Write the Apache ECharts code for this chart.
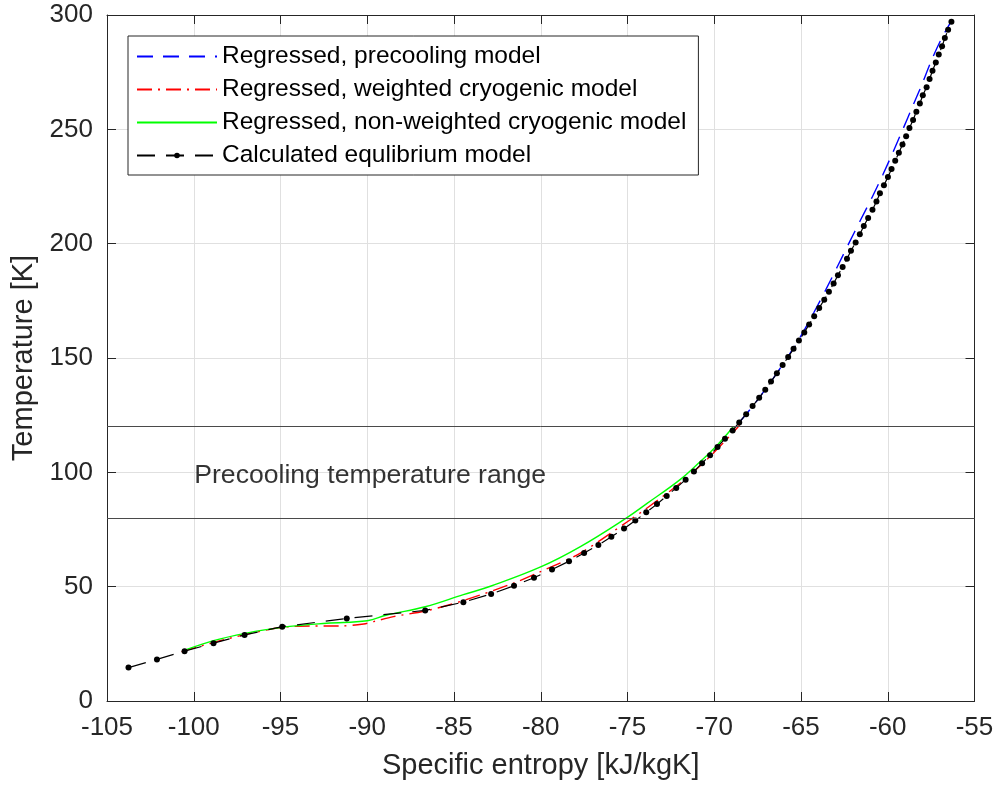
<!DOCTYPE html>
<html><head><meta charset="utf-8">
<script src="https://cdn.jsdelivr.net/npm/echarts@6/dist/echarts.min.js"></script>
<style>html,body{margin:0;padding:0;background:#fff}#c{width:997px;height:789px}</style>
</head><body><div id="c"></div>
<script>
// ---- data ----
const seriesNames = [
  'Regressed, precooling model',
  'Regressed, weighted cryogenic model',
  'Regressed, non-weighted cryogenic model',
  'Calculated equlibrium model'
];
const xTickMin = -105, xTickMax = -55, xTickStep = 5;
const yTickMin = 0, yTickMax = 300, yTickStep = 50;

// Calculated equilibrium model
const eqS = [-103.76,-102.12,-100.53,-98.86,-97.07,-94.90,-91.18,-86.66,-84.46,-82.86,
  -81.54,-80.39,-79.35,-78.37,-77.50,-76.68,-75.93,-75.20,-74.55,-73.92,
  -73.30,-72.74,-72.19,-71.65,-71.17,-70.70,-70.24,-69.81,-69.38,-68.94,
  -68.56,-68.16,-67.79,-67.41,-67.06,-66.73,-66.39,-66.06,-65.74,-65.43,
  -65.12,-64.81,-64.53,-64.24,-63.95,-63.66,-63.39,-63.12,-62.87,-62.60,
  -62.35,-62.12,-61.85,-61.61,-61.38,-61.13,-60.88,-60.65,-60.45,-60.22,
  -59.99,-59.78,-59.57,-59.36,-59.15,-58.94,-58.75,-58.54,-58.35,-58.15,
  -57.98,-57.76,-57.59,-57.42,-57.23,-57.06,-56.87,-56.71,-56.52,-56.33];
const eqT = [14.6,18.2,21.8,25.3,28.9,32.5,36.1,39.6,43.2,46.8,
  50.4,53.9,57.5,61.1,64.7,68.2,71.8,75.4,78.9,82.5,
  86.1,89.7,93.2,96.8,100.4,104.0,107.5,111.1,114.7,118.3,
  121.8,125.4,129.0,132.6,136.1,139.7,143.3,146.9,150.4,154.0,
  157.6,161.2,164.7,168.3,171.9,175.5,179.0,182.6,186.2,189.8,
  193.4,196.9,200.5,204.1,207.7,211.2,214.8,218.4,222.0,225.5,
  229.1,232.7,236.3,239.8,243.4,247.0,250.6,254.1,257.7,261.3,
  264.9,268.4,272.0,275.6,279.2,282.7,286.3,289.9,293.5,297.0];

// Regressed, precooling model
const preS = [-68.54,-67.67,-66.70,-65.80,-64.98,-64.25,-63.56,-62.90,-62.25,-61.59,
  -60.92,-60.29,-59.70,-59.13,-58.57,-58.01,-57.49,-56.88,-56.36];
const preT = [122,130,140,150,160,170,180,190,200,210,220,230,240,250,260,270,280,290,297];

// Regressed, weighted cryogenic model
const wS = [-100.7,-98.86,-97.07,-94.92,-93.29,-91.56,-90.2,-89.64,-88.49,-86.57,
  -84.46,-81.58,-80.04,-77.74,-75.01,-73.89,-71.97,-70.82,-70.06,-68.62,-68.45];
const wT = [21.6,25.6,29.0,32.2,32.8,32.8,33.7,34.7,36.9,39.5,
  43.9,51.5,56.5,64.6,78.4,84.3,95.2,102.8,108.3,119.9,122];

// Regressed, non-weighted cryogenic model
const nwS = [-100.59,-98.86,-97.03,-94.92,-92.33,-90.0,-88.87,-86.66,-84.46,-82.86,
  -80.04,-77.74,-75.01,-73.89,-71.97,-70.82,-69.9,-68.91];
const nwT = [22.0,26.4,29.6,32.2,34.0,35.1,37.6,41.2,46.5,50.3,
  58.5,67.4,80.3,86.3,96.8,104.6,111.3,119.8];

// precooling band limits and annotation
const bandLimits = [120, 80];
const bandLabel = 'Precooling temperature range';
const bandLabelPos = [-100.0, 98.4];

// ---- chart ----
const pairs = (xs, ys) => xs.map((x, i) => [x, ys[i]]);
const FONT = '"Liberation Sans", Arial, Helvetica, sans-serif';
const AX = '#262626';
const lineColors = ['#0000ff', '#ff0000', '#00ff00', '#000000'];
const dashes = [[16, 10], [15, 6, 2, 6], 'solid', [18, 11]];

const chart = echarts.init(document.getElementById('c'), null, {renderer: 'canvas'});

const baseX = {type: 'value', min: xTickMin, max: xTickMax, interval: xTickStep};
const baseY = {type: 'value', min: yTickMin, max: yTickMax, interval: yTickStep};

const legendData = seriesNames.map((n, i) => i < 3
  ? {name: n, itemStyle: {color: 'rgba(0,0,0,0)', borderWidth: 0}}
  : {name: n});

chart.setOption({
  animation: false,
  backgroundColor: '#fff',
  textStyle: {fontFamily: FONT},
  grid: {left: 107, right: 22.5, top: 15, bottom: 88, containLabel: false},
  xAxis: [
    Object.assign({}, baseX, {
      position: 'bottom',
      name: 'Specific entropy [kJ/kgK]', nameLocation: 'middle', nameGap: 50,
      nameTextStyle: {fontSize: 29, color: AX, fontFamily: FONT},
      axisLine: {show: true, onZero: false, lineStyle: {color: AX, width: 1}},
      axisTick: {show: true, inside: true, length: 9, lineStyle: {color: AX}},
      axisLabel: {fontSize: 26, color: AX, margin: 14, fontFamily: FONT},
      splitLine: {show: true, lineStyle: {color: '#e0e0e0', width: 1}}
    }),
    Object.assign({}, baseX, {
      position: 'top',
      axisLine: {show: true, onZero: false, lineStyle: {color: AX, width: 1}},
      axisTick: {show: true, inside: true, length: 9, lineStyle: {color: AX}},
      axisLabel: {show: false},
      splitLine: {show: false}
    })
  ],
  yAxis: [
    Object.assign({}, baseY, {
      position: 'left',
      name: 'Temperature [K]', nameLocation: 'middle', nameGap: 68,
      nameTextStyle: {fontSize: 29, color: AX, fontFamily: FONT},
      axisLine: {show: true, onZero: false, lineStyle: {color: AX, width: 1}},
      axisTick: {show: true, inside: true, length: 9, lineStyle: {color: AX}},
      axisLabel: {fontSize: 26, color: AX, margin: 14, fontFamily: FONT},
      splitLine: {show: true, lineStyle: {color: '#e0e0e0', width: 1}}
    }),
    Object.assign({}, baseY, {
      position: 'right',
      axisLine: {show: true, onZero: false, lineStyle: {color: AX, width: 1}},
      axisTick: {show: true, inside: true, length: 9, lineStyle: {color: AX}},
      axisLabel: {show: false},
      splitLine: {show: false}
    })
  ],
  legend: {
    data: legendData,
    orient: 'vertical',
    left: 128, top: 36,
    itemWidth: 80, itemHeight: 7, itemGap: 8,
    padding: [8, 12, 7, 8],
    backgroundColor: '#fff',
    borderColor: AX, borderWidth: 1, borderRadius: 0,
    textStyle: {fontSize: 24.5, color: '#000', fontFamily: FONT},
    selectedMode: false
  },
  series: [
    {
      name: '__band', type: 'scatter', xAxisIndex: 0, yAxisIndex: 0,
      data: [bandLabelPos], symbolSize: 1, silent: true, z: 1,
      itemStyle: {color: 'rgba(0,0,0,0)'},
      label: {show: true, position: 'right', distance: 0, formatter: bandLabel,
              fontSize: 26.6, color: '#000', fontFamily: FONT},
      markLine: {
        silent: true, symbol: ['none', 'none'], label: {show: false},
        lineStyle: {color: '#4a4a4a', type: 'solid', width: 1},
        data: bandLimits.map(v => ({yAxis: v}))
      }
    },
    {
      name: seriesNames[0], type: 'line', data: pairs(preS, preT),
      symbol: 'none', smooth: 0.3, z: 3,
      lineStyle: {color: lineColors[0], width: 1.4, type: dashes[0]},
      itemStyle: {color: lineColors[0]}
    },
    {
      name: seriesNames[1], type: 'line', data: pairs(wS, wT),
      symbol: 'none', smooth: 0.3, z: 3,
      lineStyle: {color: lineColors[1], width: 1.4, type: dashes[1]},
      itemStyle: {color: lineColors[1]}
    },
    {
      name: seriesNames[2], type: 'line', data: pairs(nwS, nwT),
      symbol: 'none', smooth: 0.4, z: 3,
      lineStyle: {color: lineColors[2], width: 1.4, type: dashes[2]},
      itemStyle: {color: lineColors[2]}
    },
    {
      name: seriesNames[3], type: 'line', data: pairs(eqS, eqT),
      symbol: 'circle', symbolSize: 6, showAllSymbol: true, z: 4,
      lineStyle: {color: lineColors[3], width: 1.2, type: dashes[3]},
      itemStyle: {color: lineColors[3]}
    }
  ]
});
</script>
</body></html>
